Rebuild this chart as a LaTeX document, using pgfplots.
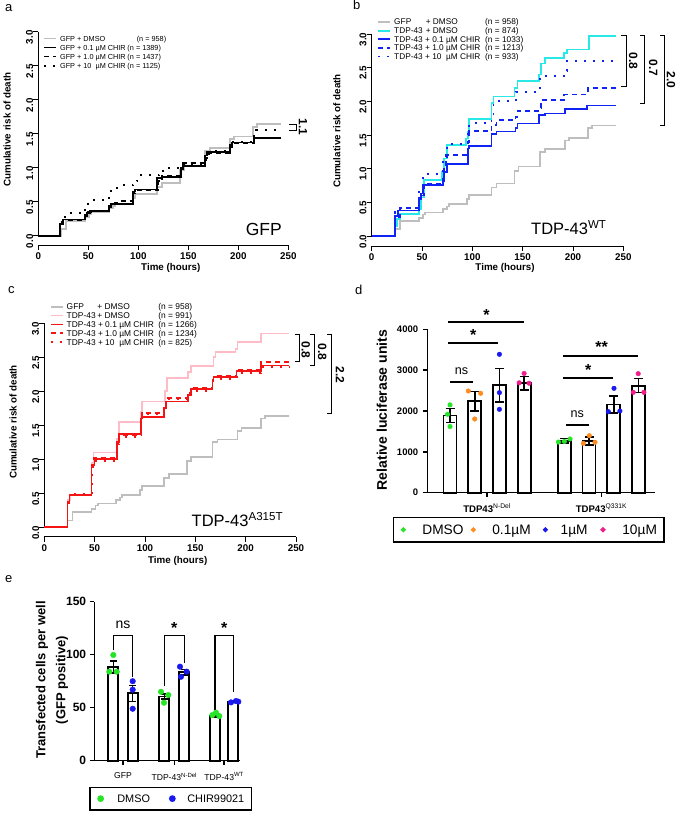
\documentclass[border=0pt]{standalone}
\usepackage{fontspec}
\setmainfont{Liberation Sans}
\usepackage{pgfplots}
\usepackage{pgfplotstable}
\pgfplotsset{compat=1.18}

\newcommand\fsz[2]{\fontsize{#1}{#2}\selectfont}
% fixed-height row struts for the legends
\newcommand\rowA{\rule[-3.2pt]{0pt}{10.7pt}}
\newcommand\rowB{\rule[-3.05pt]{0pt}{10.15pt}}
\newcommand\rowC{\rule[-3.15pt]{0pt}{10.5pt}}

\definecolor{rgray}{RGB}{190,190,190}
\definecolor{rcyan}{RGB}{40,232,232}
\definecolor{rblue}{RGB}{15,35,245}
\definecolor{rpink}{RGB}{255,188,198}
\definecolor{rred}{RGB}{245,20,20}
\definecolor{pgreen}{RGB}{40,228,40}
\definecolor{porange}{RGB}{255,140,30}
\definecolor{pblue}{RGB}{25,25,240}
\definecolor{ppink}{RGB}{240,30,140}

% GFP + DMSO reference curve, shared by panels a-c
\pgfplotstableread{
t r
0 0
23 0.10
28 0.22
47 0.27
51 0.32
53 0.35
71 0.40
75 0.44
77 0.47
95 0.55
97 0.61
119 0.72
124 0.78
142 0.97
146 1.03
167 1.25
172 1.29
192 1.42
196 1.46
215 1.60
219 1.64
243 1.64
}\gfpdmso

\tikzset{
  bracket/.style={line width=0.9pt},
  brlabel/.style={rotate=-90, font=\fsz{12}{13}\bfseries, inner sep=0pt},
}

\pgfplotsset{
  rpanel/.style={
    anchor=south west, scale only axis, xmin=0, xmax=250, ymin=0, ymax=3,
    axis lines*=left, clip=false,
    axis line style={line width=0.8pt},
    tick style={line width=0.8pt, black},
    tick align=outside, major tick length=5pt,
    xtick={0,50,100,150,200,250}, ytick={0,0.5,1,1.5,2,2.5,3},
    /pgf/number format/assume math mode=true,
    ticklabel style={font=\fsz{9.8}{11}\bfseries},
    yticklabel style={rotate=90, anchor=south, inner sep=0pt, xshift=-5.5pt,
      /pgf/number format/.cd, fixed, fixed zerofill, precision=1},
    xticklabel style={anchor=north, inner sep=0pt, yshift=-2.5pt},
    xlabel={Time (hours)}, ylabel={Cumulative risk of death},
    label style={font=\fsz{9.8}{11}\bfseries},
    legend cell align=left,
    legend style={draw=none, fill=none, inner sep=0pt, nodes={inner sep=0pt},
      anchor=north west, row sep=0pt},
    legend image code/.code={\draw[##1] (0pt,0pt) -- (12pt,0pt);},
  },
  kmline/.style={const plot, line width=1.7pt},
  kmdash/.style={const plot, line width=1.7pt, dash pattern=on 5pt off 4pt},
  kmdot/.style={const plot, line width=1.9pt, dash pattern=on 2pt off 7pt},
}

\begin{document}
\begin{tikzpicture}[x=1pt,y=1pt]
\path[use as bounding box] (0,0) rectangle (677,814);

% panel letters
\node[anchor=base west, font=\fsz{13}{15}, inner sep=0pt] at (5,802) {a};
\node[anchor=base west, font=\fsz{13}{15}, inner sep=0pt] at (353,804) {b};
\node[anchor=base west, font=\fsz{13}{15}, inner sep=0pt] at (8,520) {c};
\node[anchor=base west, font=\fsz{13}{15}, inner sep=0pt] at (355,519) {d};
\node[anchor=base west, font=\fsz{13}{15}, inner sep=0pt] at (5,231) {e};

%% ---------------- panel a ----------------
\begin{axis}[rpanel, at={(38.3pt,578.3pt)}, width=250pt, height=204pt,
  axis x line shift=9.3pt,
  xlabel style={at={(axis description cs:0.53,-0.16)}, anchor=center},
  ylabel style={at={(axis description cs:-0.125,0.52)}, anchor=center},
  legend style={at={(axis cs:4.7,2.967)}, font=\fsz{7.3}{10.7}}]
\addplot[kmline, rgray] table[x=t, y=r] {\gfpdmso};
\addlegendentry{\rowA\hspace*{3pt}\makebox[76.7pt][l]{GFP + DMSO}(n = 958)}
\addplot[kmline, black] coordinates {(0,0)(22,0.17)(25,0.24)(47,0.29)(49,0.33)(52,0.36)(71,0.42)(73,0.47)(95,0.65)(97,0.68)(119,0.85)(124,0.86)(143,0.98)(145,1.03)(167,1.18)(169,1.23)(192,1.30)(194,1.37)(216,1.44)(243,1.44)};
\addlegendentry{\rowA\hspace*{3pt}\makebox[67.4pt][l]{GFP + 0.1 µM CHIR}(n = 1389)}
\addplot[kmdash, black] coordinates {(0,0)(22,0.15)(25,0.23)(47,0.30)(50,0.35)(53,0.37)(71,0.44)(73,0.48)(79,0.51)(95,0.63)(97,0.67)(120,0.80)(124,0.88)(143,1.00)(145,1.07)(167,1.14)(169,1.22)(192,1.33)(194,1.36)(216,1.43)(243,1.43)};
\addlegendentry{\rowA\hspace*{3pt}\makebox[67.4pt][l]{GFP + 1.0 µM CHIR}(n = 1437)}
\addplot[kmdot, black] coordinates {(0,0)(22,0.20)(27,0.33)(47,0.43)(50,0.52)(71,0.62)(73,0.66)(79,0.74)(95,0.80)(99,0.89)(121,0.93)(125,1.00)(144,1.04)(147,1.06)(168,1.19)(171,1.24)(192,1.34)(195,1.38)(216,1.50)(218,1.56)(243,1.56)};
\addlegendentry{\rowA\hspace*{3pt}\makebox[67.4pt][l]{GFP + 10\ \ µM CHIR}(n = 1125)}
\draw[bracket] (axis cs:250.7,1.643) -- (axis cs:257.7,1.643) -- (axis cs:257.7,1.545) -- (axis cs:250.7,1.545);
\node[brlabel] at (axis cs:264.7,1.60) {1.1};
\node[anchor=base east, font=\fsz{17.5}{20}, inner sep=0pt] at (axis cs:243.7,0.01) {GFP};
\end{axis}

%% ---------------- panel b ----------------
\begin{axis}[rpanel, at={(371.7pt,578pt)}, width=251.6pt, height=202pt,
  axis x line shift=10pt,
  xlabel style={at={(axis description cs:0.53,-0.16)}, anchor=center},
  ylabel style={at={(axis description cs:-0.138,0.52)}, anchor=center},
  legend style={at={(axis cs:5,3.244)}, font=\fsz{8.3}{10.15}}]
\addplot[kmline, rgray] table[x=t, y=r] {\gfpdmso};
\addlegendentry{\rowB\hspace*{3.4pt}\makebox[31.6pt][l]{GFP}\makebox[59.4pt][l]{+ DMSO}(n = 958)}
\addplot[kmline, rcyan] coordinates {(0,0)(23,0.15)(25,0.25)(28,0.33)(47,0.40)(49,0.57)(52,0.83)(70,0.95)(72,1.15)(75,1.35)(94,1.45)(96,1.55)(97,1.74)(119,1.97)(121,2.07)(142,2.20)(145,2.30)(166,2.40)(168,2.56)(172,2.64)(191,2.72)(194,2.77)(216,2.97)(243,2.97)};
\addlegendentry{\rowB\hspace*{3.4pt}\makebox[31.6pt][l]{TDP-43}\makebox[59.4pt][l]{+ DMSO}(n = 874)}
\addplot[kmline, rblue] coordinates {(0,0)(23,0.30)(26,0.38)(47,0.55)(49,0.63)(51,0.76)(71,0.85)(72,0.95)(75,1.07)(96,1.30)(97,1.34)(119,1.51)(124,1.55)(143,1.60)(145,1.67)(166,1.80)(172,1.82)(192,1.89)(214,1.94)(243,1.94)};
\addlegendentry{\rowB\hspace*{3.4pt}\makebox[91pt][l]{TDP-43 + 0.1 µM CHIR}(n = 1033)}
\addplot[kmdash, rblue] coordinates {(0,0)(23,0.28)(28,0.42)(47,0.60)(52,0.78)(72,1.00)(74,1.20)(96,1.40)(97,1.56)(119,1.65)(124,1.72)(143,1.77)(145,1.86)(167,1.90)(168,2.02)(191,2.10)(215,2.20)(243,2.20)};
\addlegendentry{\rowB\hspace*{3.4pt}\makebox[91pt][l]{TDP-43 + 1.0 µM CHIR}(n = 1213)}
\addplot[kmdot, rblue] coordinates {(0,0)(23,0.35)(28,0.42)(47,0.70)(51,0.92)(71,1.10)(75,1.36)(96,1.55)(97,1.68)(119,1.80)(121,2.00)(143,2.14)(167,2.37)(191,2.45)(194,2.60)(243,2.62)};
\addlegendentry{\rowB\hspace*{3.4pt}\makebox[91pt][l]{TDP-43 + 10\ \ µM CHIR}(n = 933)}
\draw[bracket] (axis cs:248.2,2.985) -- (axis cs:252.7,2.985) -- (axis cs:252.7,2.217) -- (axis cs:248.2,2.217);
\draw[bracket] (axis cs:266.4,2.985) -- (axis cs:270.9,2.985) -- (axis cs:270.9,1.970) -- (axis cs:266.4,1.970);
\draw[bracket] (axis cs:286.3,2.985) -- (axis cs:290.8,2.985) -- (axis cs:290.8,1.649) -- (axis cs:286.3,1.649);
\node[brlabel] at (axis cs:259.9,2.603) {0.8};
\node[brlabel] at (axis cs:279.8,2.495) {0.7};
\node[brlabel] at (axis cs:297.4,2.317) {2.0};
\node[anchor=base east, font=\fsz{16.5}{20}, inner sep=0pt] at (axis cs:233.5,0.015) {TDP-43\textsuperscript{WT}};
\end{axis}

%% ---------------- panel c ----------------
\begin{axis}[rpanel, at={(44.3pt,286.7pt)}, width=251.7pt, height=204pt,
  axis x line shift=9.5pt,
  xlabel style={at={(axis description cs:0.53,-0.166)}, anchor=center},
  ylabel style={at={(axis description cs:-0.124,0.516)}, anchor=center},
  legend style={at={(axis cs:5.7,3.312)}, font=\fsz{8.4}{10.5}}]
\addplot[kmline, rgray] table[x=t, y=r] {\gfpdmso};
\addlegendentry{\rowC\hspace*{2.6pt}\makebox[30.7pt][l]{GFP}\makebox[61pt][l]{+ DMSO}(n = 958)}
\addplot[kmline, rpink] coordinates {(0,0)(23,0.40)(26,0.48)(47,0.95)(49,1.10)(72,1.30)(74,1.55)(96,1.70)(97,1.85)(120,2.00)(122,2.20)(143,2.28)(146,2.37)(168,2.50)(170,2.58)(190,2.62)(192,2.72)(215,2.85)(243,2.85)};
\addlegendentry{\rowC\hspace*{2.6pt}\makebox[30.7pt][l]{TDP-43}\makebox[61pt][l]{+ DMSO}(n = 991)}
\addplot[kmline, rred] coordinates {(0,0)(23,0.38)(25,0.47)(47,0.92)(50,1.00)(72,1.25)(74,1.37)(96,1.60)(97,1.62)(119,1.75)(121,1.85)(143,1.95)(146,2.03)(167,2.15)(168,2.21)(191,2.30)(215,2.38)(243,2.38)};
\addlegendentry{\rowC\hspace*{2.6pt}\makebox[91.7pt][l]{TDP-43 + 0.1 µM CHIR}(n = 1266)}
\addplot[kmdash, rred] coordinates {(0,0)(23,0.36)(25,0.48)(47,0.90)(49,1.02)(72,1.22)(74,1.36)(96,1.62)(97,1.68)(119,1.77)(121,1.90)(143,1.97)(146,2.05)(167,2.17)(168,2.23)(191,2.32)(215,2.43)(243,2.43)};
\addlegendentry{\rowC\hspace*{2.6pt}\makebox[91.7pt][l]{TDP-43 + 1.0 µM CHIR}(n = 1234)}
\addplot[kmdot, rred] coordinates {(0,0)(23,0.40)(25,0.49)(47,0.88)(50,0.98)(72,1.20)(74,1.33)(96,1.58)(97,1.66)(119,1.78)(121,1.88)(143,1.95)(146,2.00)(167,2.13)(168,2.18)(191,2.27)(215,2.36)(243,2.36)};
\addlegendentry{\rowC\hspace*{2.6pt}\makebox[91.7pt][l]{TDP-43 + 10\ \ µM CHIR}(n = 825)}
\draw[bracket] (axis cs:248.8,2.843) -- (axis cs:253.3,2.843) -- (axis cs:253.3,2.435) -- (axis cs:248.8,2.435);
\draw[bracket] (axis cs:263.7,2.843) -- (axis cs:268.2,2.843) -- (axis cs:268.2,2.376) -- (axis cs:263.7,2.376);
\draw[bracket] (axis cs:281.0,2.843) -- (axis cs:285.5,2.843) -- (axis cs:285.5,1.676) -- (axis cs:281.0,1.676);
\node[brlabel] at (axis cs:259.6,2.607) {0.8};
\node[brlabel] at (axis cs:276.1,2.582) {0.8};
\node[brlabel] at (axis cs:293.7,2.240) {2.2};
\node[anchor=base east, font=\fsz{16.5}{20}, inner sep=0pt] at (axis cs:237.4,0.01) {TDP-43\textsuperscript{A315T}};
\end{axis}

%% ---------------- panel d ----------------
\begin{axis}[anchor=south west, at={(427.3pt,321.3pt)}, scale only axis,
  width=227.7pt, height=163.4pt, xmin=0, xmax=9.22, ymin=0, ymax=4000,
  axis lines*=left, clip=false,
  axis line style={line width=1.5pt},
  tick style={line width=1.5pt, black}, tick align=outside, major tick length=4.5pt,
  ytick={0,1000,2000,3000,4000}, xtick={2.42,7.05},
  xticklabels={\textbf{TDP43}\textsuperscript{N-Del}, \textbf{TDP43}\textsuperscript{Q331K}},
  /pgf/number format/assume math mode=true, /pgf/number format/1000 sep={},
  yticklabel style={font=\fsz{9.5}{11}\bfseries, anchor=east, inner sep=0pt, xshift=-4.5pt},
  xticklabel style={font=\fsz{9.6}{11}, yshift=-3pt},
  ylabel={Relative luciferase units},
  ylabel style={at={(axis description cs:-0.2,0.506)}, anchor=center, font=\fsz{14}{16}\bfseries},
  legend columns=4,
  legend style={at={(axis cs:-1.4,-588)}, anchor=north west, draw=black, line width=1.3pt,
    fill=white, inner xsep=7pt, inner ysep=6pt, nodes={inner sep=0pt}, font=\fsz{13.7}{16}},
  legend image code/.code={\path[draw=none, fill=none] (-3pt,-3pt) rectangle (3pt,3pt); \draw[#1, draw=none, mark size=1.9pt] plot coordinates {(0pt,0pt)};}]
\addplot[ybar, bar width=13pt, fill=white, draw=black, line width=1.8pt, forget plot,
  error bars/.cd, y dir=both, y explicit,
  error bar style={line width=1.6pt, black},
  error mark options={rotate=90, mark size=4.5pt, line width=1.6pt, black}]
  coordinates {(0.92,1890) +- (0,175) (1.92,2240) +- (0,236) (2.92,2630) +- (0,408) (3.92,2680) +- (0,163)
               (5.55,1270) +- (0,57) (6.55,1270) +- (0,98) (7.55,2160) +- (0,212) (8.55,2620) +- (0,172)};
\addplot[only marks, mark=*, mark size=2.3pt, pgreen] coordinates {(0.92,2150)(0.82,1920)(0.92,1620)(5.31,1240)(5.78,1315)(5.55,1255)};
\addlegendentry{\strut\hspace*{16pt}\makebox[48pt][l]{DMSO}}
\addplot[only marks, mark=*, mark size=2.3pt, porange] coordinates {(1.66,2490)(2.16,2433)(1.92,1804)(6.32,1208)(6.56,1396)(6.79,1233)};
\addlegendentry{\strut\hspace*{16pt}\makebox[50pt][l]{0.1µM}}
\addplot[only marks, mark=*, mark size=2.3pt, pblue] coordinates {(2.92,3388)(2.92,2449)(2.92,2041)(7.33,1984)(7.56,2555)(7.80,2000)};
\addlegendentry{\strut\hspace*{12.3pt}\makebox[39.3pt][l]{1µM}}
\addplot[only marks, mark=*, mark size=2.3pt, ppink] coordinates {(3.92,2920)(3.72,2690)(4.12,2680)(8.34,2457)(8.54,2914)(8.77,2457)};
\addlegendentry{\strut\hspace*{16.4pt}10µM}
% comparison bars
\addplot[black, line width=2pt, forget plot] coordinates {(0.85,4176)(3.92,4176)};
\addplot[black, line width=2pt, forget plot] coordinates {(0.85,3662)(2.87,3662)};
\addplot[black, line width=2pt, forget plot] coordinates {(0.92,2706)(1.86,2706)};
\addplot[black, line width=2pt, forget plot] coordinates {(5.51,3350)(8.52,3350)};
\addplot[black, line width=2pt, forget plot] coordinates {(5.51,2819)(7.51,2819)};
\addplot[black, line width=2pt, forget plot] coordinates {(5.60,1659)(6.56,1659)};
\node[font=\fsz{16}{16}\bfseries, inner sep=0pt] at (axis cs:2.4,4350) {*};
\node[font=\fsz{16}{16}\bfseries, inner sep=0pt] at (axis cs:1.86,3860) {*};
\node[font=\fsz{12.6}{14}, inner sep=0pt] at (axis cs:1.39,2966) {ns};
\node[font=\fsz{16}{16}\bfseries, inner sep=0pt] at (axis cs:7.06,3560) {**};
\node[font=\fsz{16}{16}\bfseries, inner sep=0pt] at (axis cs:6.52,3000) {*};
\node[font=\fsz{12.6}{14}, inner sep=0pt] at (axis cs:6.07,1929) {ns};
\end{axis}

%% ---------------- panel e ----------------
\begin{axis}[anchor=south west, at={(94.3pt,53.3pt)}, scale only axis,
  width=145.7pt, height=159pt, xmin=0, xmax=145.7, ymin=0, ymax=150,
  axis lines*=left, clip=false,
  axis line style={line width=1.5pt},
  tick style={line width=1.5pt, black}, tick align=outside, major tick length=4.5pt,
  ytick={0,50,100,150}, xtick={28.7,80,129.85},
  xticklabels={GFP, TDP-43\textsuperscript{N-Del}, TDP-43\textsuperscript{WT}},
  /pgf/number format/assume math mode=true,
  yticklabel style={font=\fsz{12}{13}\bfseries, anchor=east, inner sep=0pt, xshift=-3.5pt},
  xticklabel style={font=\fsz{8.6}{10}, yshift=-4pt},
  ylabel={Transfected cells per well\\(GFP positive)},
  ylabel style={at={(axis description cs:-0.29,0.507)}, anchor=center, align=center, font=\fsz{13}{20}\bfseries},
  legend columns=2,
  legend style={at={(axis cs:-5,-24.5)}, anchor=north west, draw=black, line width=1.3pt,
    fill=white, inner xsep=7.2pt, inner ysep=6pt, nodes={inner sep=0pt}, font=\fsz{10.9}{13}},
  legend image code/.code={\path[draw=none, fill=none] (-3.5pt,-3.5pt) rectangle (3.5pt,3.5pt); \draw[#1, draw=none, mark size=2.7pt] plot coordinates {(0pt,0pt)};}]
\addplot[ybar, bar width=10pt, fill=white, draw=black, line width=1.8pt, forget plot,
  error bars/.cd, y dir=both, y explicit,
  error bar style={line width=1.5pt, black},
  error mark options={rotate=90, mark size=3.5pt, line width=1.5pt, black}]
  coordinates {(19,88.5) +- (0,5.6) (38.4,63.5) +- (0,7.5) (70,60.5) +- (0,2.5)
               (90,83.5) +- (0,2.7) (120.7,42.5) +- (0,1.5) (139,55.7) +- (0,0.9)};
\addplot[only marks, mark=*, mark size=2.8pt, pgreen] coordinates {(19,99.7)(15,84)(22.4,84)(66.7,65)(74,62)(69.7,54.7)(118,43)(121.7,45.3)(125,42.1)};
\addlegendentry{\strut\hspace*{13.2pt}\makebox[51.5pt][l]{DMSO}}
\addplot[only marks, mark=*, mark size=2.8pt, pblue] coordinates {(38.4,75)(38.4,67)(38.4,49)(85.7,88.7)(86.7,79.2)(92.4,84)(136.7,55)(141.7,56.3)(144,55.7)};
\addlegendentry{\strut\hspace*{11.5pt}CHIR99021}
% pairwise comparison brackets
\addplot[black, line width=1.5pt, forget plot] coordinates {(19,104)(19,118)(38.4,118)(38.4,79)};
\addplot[black, line width=1.5pt, forget plot] coordinates {(70,70)(70,118)(90,118)(90,92)};
\addplot[black, line width=1.5pt, forget plot] coordinates {(120.7,48)(120.7,118)(139,118)(139,65)};
\node[font=\fsz{14}{16}, inner sep=0pt] at (axis cs:28.7,128) {ns};
\node[font=\fsz{16}{16}\bfseries, inner sep=0pt] at (axis cs:80,125) {*};
\node[font=\fsz{16}{16}\bfseries, inner sep=0pt] at (axis cs:129.85,125) {*};
\end{axis}
\end{tikzpicture}
\end{document}
